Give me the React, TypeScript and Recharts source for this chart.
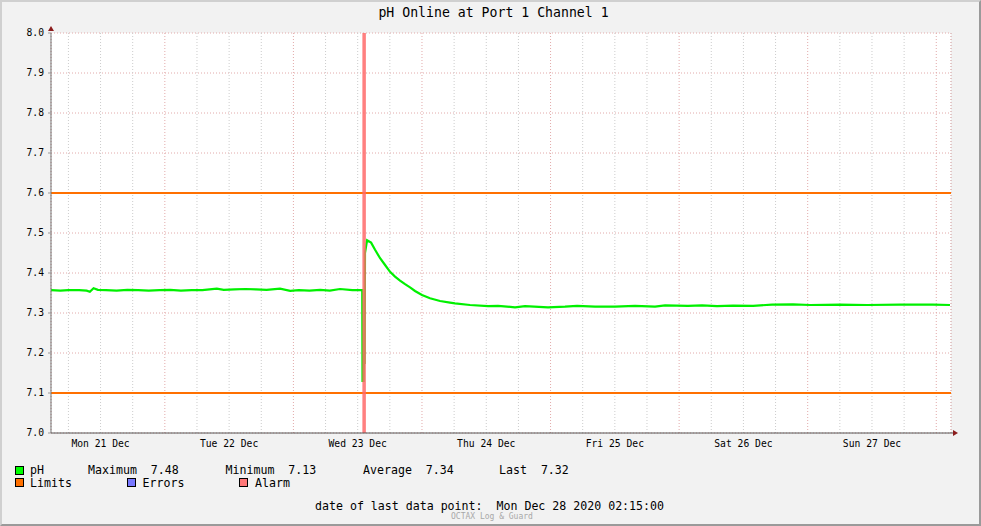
import { ComposedChart, Line, XAxis, YAxis, CartesianGrid, ReferenceLine, Label } from "recharts";

// time axis: hours since Mon 21 Dec 00:00
const hours = [
  2.75, 4.5, 6, 8, 9.4, 10.0, 10.7, 11.5, 13, 15, 17, 19, 21, 23, 25, 27, 29, 31, 33.7, 35, 37, 39, 41, 43,
  45.5, 47.4, 49, 51, 53, 54.8, 56.7, 59, 60.6, 60.85, 60.9, 61.1, 61.15, 61.3, 61.36, 61.75, 62.5, 63.24,
  64.18, 65.11, 66.04, 66.97, 67.9, 68.84, 69.77, 70.7, 72.0, 73.5, 75.37, 77.23, 78.16, 80.97, 84.33, 86.2,
  89.37, 91.23, 95.53, 98.7, 100.94, 104.3, 108.03, 111.77, 115.5, 117.37, 121.66, 124.28, 127.08, 130.06,
  133.8, 137.34, 141.26, 144.44, 150.03, 155.07, 161.23, 167.39, 170.56,
];
const ph = [
  7.357, 7.356, 7.357, 7.357, 7.356, 7.353, 7.362, 7.358, 7.357, 7.356, 7.358, 7.357, 7.356, 7.357, 7.358,
  7.356, 7.357, 7.357, 7.361, 7.358, 7.359, 7.36, 7.359, 7.358, 7.361, 7.3555, 7.357, 7.356, 7.358, 7.356,
  7.36, 7.357, 7.357, 7.357, 7.13, 7.13, 7.175, 7.175, 7.45, 7.482, 7.476, 7.458, 7.437, 7.42, 7.403, 7.391,
  7.381, 7.372, 7.364, 7.355, 7.345, 7.337, 7.33, 7.326, 7.324, 7.32, 7.317, 7.318, 7.3143, 7.317, 7.3143,
  7.316, 7.318, 7.316, 7.316, 7.318, 7.316, 7.319, 7.318, 7.319, 7.317, 7.3185, 7.318, 7.321, 7.3215, 7.32,
  7.321, 7.32, 7.321, 7.321, 7.32,
];

const limitValues = [7.6, 7.1];
const alarmHours = [61.2];

const dayNoons = [12, 36, 60, 84, 108, 132, 156];
const dayLabels = ["Mon 21 Dec", "Tue 22 Dec", "Wed 23 Dec", "Thu 24 Dec", "Fri 25 Dec", "Sat 26 Dec", "Sun 27 Dec"];
const midnights = [24, 48, 72, 96, 120, 144, 168];
const sixHourMarks = [6, 12, 18, 30, 36, 42, 54, 60, 66, 78, 84, 90, 102, 108, 114, 126, 132, 138, 150, 156, 162];
const yTicks = [7.0, 7.1, 7.2, 7.3, 7.4, 7.5, 7.6, 7.7, 7.8, 7.9, 8.0];

const statNames = ["Maximum", "Minimum", "Average", "Last"];
const statValues = ["7.48", "7.13", "7.34", "7.32"];

const data = hours.map((h, i) => ({ h, ph: ph[i] }));
const domainX: [number, number] = [2.75, 170.75];
const mono = "'DejaVu Sans Mono', monospace";

function YArrow(props: any) {
  const { x, y, width } = props.viewBox;
  const ax = x + width;
  return <polygon points={`${ax - 3},${y - 2} ${ax + 3},${y - 2} ${ax},${y - 7}`} fill="#8b1c1c" />;
}

function XArrow(props: any) {
  const { x, y, width } = props.viewBox;
  const ax = x + width;
  return (
    <g>
      <line x1={ax} x2={ax + 3} y1={y} y2={y} stroke="#555" />
      <polygon points={`${ax + 2},${y - 3} ${ax + 2},${y + 3} ${ax + 7},${y}`} fill="#8b1c1c" />
    </g>
  );
}

function Swatch({ color, left, top }: { color: string; left: number; top: number }) {
  return (
    <div
      style={{
        position: "absolute",
        left,
        top,
        width: 7,
        height: 7,
        background: color,
        border: "1px solid #000",
      }}
    />
  );
}

const statLefts = [88, 225.5, 363, 499];
const txt = { position: "absolute" as const, fontSize: 11.6, lineHeight: "10px", whiteSpace: "pre" as const };

export default function App() {
  return (
    <div
      style={{
        position: "absolute",
        left: 0,
        top: 0,
        width: 981,
        height: 526,
        background: "#f2f2f2",
        fontFamily: mono,
        color: "#000",
        overflow: "hidden",
      }}
    >
      <div style={{ position: "absolute", left: 0, top: 6, width: 987, textAlign: "center", fontSize: 13.2, lineHeight: "13px" }}>
        pH Online at Port 1 Channel 1
      </div>

      <ComposedChart
        width={981}
        height={526}
        data={data}
        margin={{ top: 33, right: 30, bottom: 73, left: 11 }}
        style={{ position: "absolute", left: 0, top: 0 }}
      >
        <CartesianGrid vertical={false} stroke="#e2aaaa" strokeDasharray="1 2" fill="#ffffff" />
        <CartesianGrid xAxisId="minor" horizontal={false} stroke="#cccccc" strokeDasharray="1 2" />
        <CartesianGrid xAxisId="major" horizontal={false} stroke="#e2aaaa" strokeDasharray="1 2" />
        <XAxis
          type="number"
          dataKey="h"
          domain={domainX}
          allowDataOverflow
          ticks={dayNoons}
          tickFormatter={(v: number) => dayLabels[dayNoons.indexOf(v)] ?? ""}
          interval={0}
          height={20}
          tickLine={false}
          tickSize={4}
          tickMargin={3}
          axisLine={{ stroke: "#555" }}
          tick={{ fill: "#000", fontSize: 9.7, fontFamily: mono }}
        >
          <Label content={XArrow} />
        </XAxis>
        <XAxis xAxisId="minor" type="number" dataKey="h" domain={domainX} allowDataOverflow ticks={sixHourMarks} hide />
        <XAxis xAxisId="major" type="number" dataKey="h" domain={domainX} allowDataOverflow ticks={midnights} hide />
        <YAxis
          type="number"
          domain={[7.0, 8.0]}
          ticks={yTicks}
          interval={0}
          width={40}
          tickSize={3}
          tickMargin={4}
          tickLine={{ stroke: "#999" }}
          axisLine={{ stroke: "#777" }}
          tickFormatter={(v: number) => v.toFixed(1)}
          tick={{ fill: "#000", fontSize: 9.7, fontFamily: mono }}
        >
          <Label content={YArrow} />
        </YAxis>
        {limitValues.map((v) => (
          <ReferenceLine key={v} y={v} stroke="#ff7000" strokeWidth={2} />
        ))}
        <Line
          type="linear"
          dataKey="ph"
          stroke="#00f000"
          strokeWidth={2.2}
          dot={false}
          isAnimationActive={false}
        />
        {alarmHours.map((v) => (
          <ReferenceLine key={v} x={v} stroke="#ff6a6a" strokeOpacity={0.85} strokeWidth={3.5} />
        ))}
      </ComposedChart>

      {/* legend */}
      <Swatch color="#00ff00" left={15} top={466} />
      <div style={{ ...txt, left: 30, top: 464.5 }}>pH</div>
      {statNames.map((n, i) => (
        <div key={n} style={{ ...txt, left: statLefts[i], top: 464.5 }}>
          {`${n}  ${statValues[i]}`}
        </div>
      ))}
      <Swatch color="#ff7000" left={15} top={478} />
      <div style={{ ...txt, left: 30, top: 477.5 }}>Limits</div>
      <Swatch color="#7878ff" left={127} top={478} />
      <div style={{ ...txt, left: 142.5, top: 477.5 }}>Errors</div>
      <Swatch color="#ff7878" left={239} top={478} />
      <div style={{ ...txt, left: 255, top: 477.5 }}>Alarm</div>

      <div style={{ ...txt, left: 315, top: 500.5, fontSize: 11.6 }}>
        {"date of last data point:  Mon Dec 28 2020 02:15:00"}
      </div>
      <div style={{ position: "absolute", left: 451, top: 513, fontSize: 8, lineHeight: "7px", color: "#a8a8a8" }}>
        OCTAX Log &amp; Guard
      </div>

      <div
        style={{
          position: "absolute",
          inset: 0,
          boxSizing: "border-box",
          borderTop: "2px solid #d0d0d0",
          borderLeft: "2px solid #d0d0d0",
          borderBottom: "2px solid #9a9a9a",
          borderRight: "2px solid #9a9a9a",
          pointerEvents: "none",
        }}
      />
    </div>
  );
}
